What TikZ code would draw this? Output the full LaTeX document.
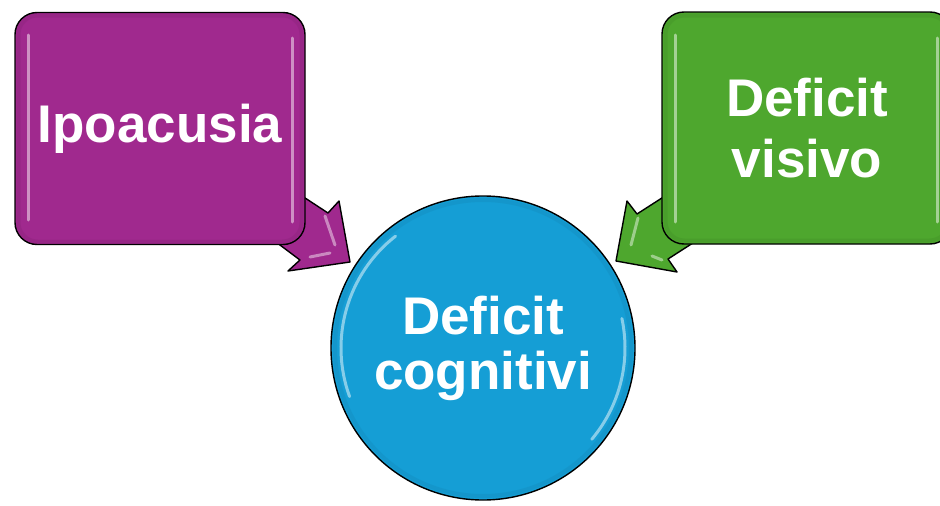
\documentclass[tikz,border=0pt]{standalone}
\usepackage{fontspec}
\setmainfont{Liberation Sans}
\definecolor{purp}{RGB}{160,41,142}
\definecolor{grn}{RGB}{78,167,46}
\definecolor{blu}{RGB}{21,158,213}
\begin{document}
\begin{tikzpicture}[x=1pt,y=-1pt,
  lbl/.style={text=white,font=\bfseries\fontsize{53}{60}\selectfont,align=center},
  outl/.style={draw=black,line width=1.4pt,line join=round},
  box/.style={outl,rounded corners=22pt,minimum width=290pt,minimum height=232pt,inner sep=0pt,lbl},
  glint/.style={line width=3pt,line cap=round,draw opacity=0.75},
]
\useasboundingbox (0,0) rectangle (940,506);
\fill[white] (0,0) rectangle (940,506);

% block arrows
\coordinate (pa1) at (244,158);
\coordinate (pa2) at (328,213);
\coordinate (pa3) at (339,201);
\coordinate (pa4) at (350,262);
\coordinate (pa5) at (288,271);
\coordinate (pa6) at (300,260);
\coordinate (pa7) at (220,200);
\filldraw[outl,fill=purp] (pa1) -- (pa2) -- (pa3) -- (pa4) -- (pa5) -- (pa6) -- (pa7) -- cycle;
\draw[glint,purp!40!white] (325,216) -- (335,245);
\draw[glint,purp!40!white] (310,257) -- (330,253);

\coordinate (ga1) at (721,160);
\coordinate (ga2) at (637,214);
\coordinate (ga3) at (627,201);
\coordinate (ga4) at (616,261);
\coordinate (ga5) at (677,272);
\coordinate (ga6) at (668,259);
\coordinate (ga7) at (752,205);
\filldraw[outl,fill=grn] (ga1) -- (ga2) -- (ga3) -- (ga4) -- (ga5) -- (ga6) -- (ga7) -- cycle;
\draw[glint,grn!40!white] (638,218) -- (631,245);
\draw[glint,grn!40!white] (652,256) -- (662,260);

% boxes
\node[box,fill=purp] (ipo) at (160,128.5) {Ipoacusia};
\node[box,fill=grn,font=\bfseries\fontsize{53}{61}\selectfont] (vis) at (807,128) {Deficit\\visivo};
\draw[line width=4pt,purp!85!black,draw opacity=0.35,rounded corners=19pt] (18.5,15.5) rectangle (301.5,241.5);
\draw[line width=4pt,grn!85!black,draw opacity=0.35,rounded corners=19pt] (665.5,15.5) rectangle (948.5,240.5);
\draw[glint,purp!35!white] (28,35) -- (28,220);
\draw[glint,purp!35!white] (292,38) -- (292,222);
\draw[glint,grn!35!white] (675,35) -- (675,222);
\draw[glint,grn!35!white] (937,38) -- (937,222);

% circle
\node[circle,outl,fill=blu,minimum size=304pt,inner sep=0pt,lbl,font=\bfseries\fontsize{53}{55}\selectfont] (cog) at (483,348) {Deficit\\cognitivi};
\draw[line width=4pt,blu!85!black,draw opacity=0.3] (cog.center) circle[radius=148pt];
\draw[glint,blu!35!white] (cog.center) ++(128:142pt) arc[start angle=128,end angle=200,radius=142pt];
\draw[glint,blu!35!white] (cog.center) ++(12:142pt) arc[start angle=12,end angle=-40,radius=142pt];
\end{tikzpicture}
\end{document}
